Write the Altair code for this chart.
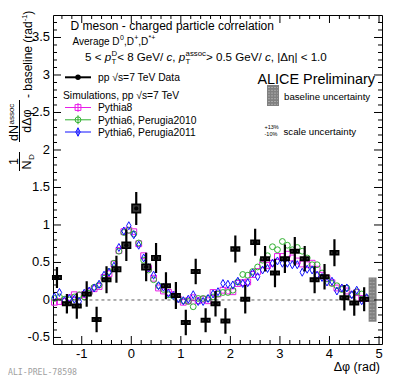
import altair as alt
import pandas as pd
import numpy as np

FONT = "Liberation Sans"

# ---------------- data ----------------
data_x = [-1.5, -1.3, -1.1, -0.9, -0.7, -0.5, -0.3, -0.1, 0.1, 0.3, 0.5, 0.7, 0.9, 1.1, 1.3, 1.5,
          1.7, 1.9, 2.1, 2.3, 2.5, 2.7, 2.9, 3.1, 3.3, 3.5, 3.7, 3.9, 4.1, 4.3, 4.5, 4.7]
data_y = [0.30, -0.05, -0.08, 0.08, -0.26, 0.27, 0.41, 0.73, 1.22, 0.44, 0.56, 0.19, 0.06, -0.30, 0.38, -0.27,
          -0.05, -0.28, 0.68, 0.01, 0.77, 0.55, 0.36, 0.55, 0.65, 0.55, 0.27, 0.31, 0.63, 0.03, -0.04, 0.01]
data_stat = [0.14, 0.13, 0.17, 0.17, 0.17, 0.18, 0.18, 0.21, 0.22, 0.19, 0.20, 0.18, 0.18, 0.17, 0.17, 0.16,
             0.17, 0.17, 0.18, 0.19, 0.18, 0.17, 0.19, 0.19, 0.19, 0.17, 0.18, 0.17, 0.18, 0.17, 0.17, 0.16]
data_syst = [0.022, 0.022, 0.022, 0.022, 0.022, 0.022, 0.03, 0.038, 0.055, 0.036, 0.03, 0.022, 0.022, 0.022, 0.022, 0.022,
             0.022, 0.022, 0.025, 0.022, 0.025, 0.022, 0.022, 0.022, 0.022, 0.022, 0.022, 0.022, 0.025, 0.022, 0.022, 0.022]

model_x = [-1.55, -1.45, -1.35, -1.25, -1.15, -1.05, -0.95, -0.85, -0.75, -0.65, -0.55, -0.45, -0.35, -0.25, -0.15, -0.05,
           0.05, 0.15, 0.25, 0.35, 0.45, 0.55, 0.65, 0.75, 0.85, 0.95, 1.05, 1.15, 1.25, 1.35, 1.45, 1.55,
           1.65, 1.75, 1.85, 1.95, 2.05, 2.15, 2.25, 2.35, 2.45, 2.55, 2.65, 2.75, 2.85, 2.95, 3.05, 3.15,
           3.25, 3.35, 3.45, 3.55, 3.65, 3.75, 3.85, 3.95, 4.05, 4.15, 4.25, 4.35, 4.45, 4.55, 4.65, 4.75]
pythia8 = [-0.03, -0.02, -0.02, 0.03, 0.07, 0.06, 0.07, 0.11, 0.15, 0.18, 0.30, 0.35, 0.48, 0.66, 0.91, 0.93,
           0.91, 0.75, 0.59, 0.42, 0.29, 0.16, 0.12, 0.10, 0.07, 0.01, -0.03, -0.01, 0.03, -0.01, 0.01, -0.01,
           0.10, 0.08, 0.13, 0.12, 0.11, 0.22, 0.23, 0.24, 0.34, 0.38, 0.47, 0.46, 0.49, 0.58, 0.58, 0.61,
           0.56, 0.52, 0.48, 0.47, 0.49, 0.41, 0.33, 0.29, 0.23, 0.16, 0.15, 0.12, 0.07, 0.10, 0.02, 0.02]
perugia2010 = [0.02, 0.04, 0.01, 0.00, 0.04, 0.07, 0.04, 0.09, 0.17, 0.20, 0.29, 0.38, 0.49, 0.65, 0.90, 0.93,
               0.88, 0.76, 0.53, 0.40, 0.27, 0.19, 0.14, 0.07, 0.05, 0.01, -0.01, -0.02, -0.09, 0.02, 0.02, 0.02,
               0.04, 0.08, 0.10, 0.10, 0.13, 0.24, 0.34, 0.33, 0.38, 0.44, 0.53, 0.59, 0.71, 0.67, 0.78, 0.73,
               0.67, 0.70, 0.65, 0.56, 0.47, 0.47, 0.36, 0.28, 0.22, 0.19, 0.14, 0.16, 0.07, 0.11, 0.08, 0.03]
perugia2011 = [0.04, 0.10, -0.01, 0.02, 0.01, -0.02, 0.09, 0.12, 0.16, 0.21, 0.33, 0.37, 0.45, 0.70, 0.92, 0.99,
               0.87, 0.73, 0.56, 0.43, 0.33, 0.19, 0.17, 0.09, 0.06, 0.02, -0.01, 0.01, 0.07, -0.02, -0.02, 0.02,
               0.08, 0.11, 0.22, 0.21, 0.20, 0.25, 0.22, 0.23, 0.36, 0.31, 0.40, 0.42, 0.49, 0.52, 0.49, 0.49,
               0.47, 0.47, 0.37, 0.41, 0.40, 0.33, 0.30, 0.24, 0.25, 0.12, 0.16, 0.16, 0.07, 0.13, -0.01, 0.03]

baseline_unc = [4.79, 4.95, -0.29, 0.30]   # x0, x1, y0, y1

x_ticks = [-1, 0, 1, 2, 3, 4, 5]
x_labels = ["-1", "0", "1", "2", "3", "4", "5"]
y_ticks = [-0.5, 0, 0.5, 1, 1.5, 2, 2.5, 3, 3.5]
y_labels = ["-0.5", "0", "0.5", "1", "1.5", "2", "2.5", "3", "3.5"]

# ---------------- layout ----------------
W, H = 329, 329
OX, OY = 53, 15          # page position of plot origin
XMIN, XMAX = -1.58, 5.06
YMIN, YMAX = -0.587, 3.8
xs = alt.Scale(domain=[XMIN, XMAX], nice=False, zero=False)
ys = alt.Scale(domain=[YMIN, YMAX], nice=False, zero=False)
MAG, GRN, BLU = "#e81ee8", "#30b030", "#1010ff"
DIAMOND = "M0,-1L0.55,0L0,1L-0.55,0Z"

one = pd.DataFrame({"a": [0]})

AW = {' ': 278, '!': 278, '%': 889, '(': 333, ')': 333, '*': 389, '+': 584, ',': 278, '-': 333, '.': 278,
      '/': 278, '<': 584, '=': 584, '>': 584, '|': 260, 'A': 667, 'C': 722, 'D': 722, 'E': 667, 'G': 778,
      'I': 278, 'L': 556, 'N': 722, 'P': 667, 'S': 667, 'T': 611, 'V': 667, 'a': 556, 'b': 556, 'c': 500,
      'd': 556, 'e': 556, 'g': 556, 'h': 556, 'i': 222, 'l': 222, 'm': 833, 'n': 556, 'o': 556, 'p': 556,
      'r': 333, 's': 500, 't': 278, 'u': 556, 'v': 500, 'y': 500, 'Δ': 668, 'η': 556, 'φ': 650, '√': 549}


def tw(s, size):
    return sum(AW.get(ch, 556) for ch in s) * size / 1000.0


def X(v):
    return alt.X(v, scale=xs, axis=None, title=None)


def Y(v):
    return alt.Y(v, scale=ys, axis=None, title=None)


def txt(s, px, py, size, align="left", baseline="alphabetic", angle=0, style="normal",
        color="black", font=FONT):
    return alt.Chart(one).mark_text(
        text=s, fontSize=size, align=align, baseline=baseline, angle=angle,
        fontStyle=style, font=font, color=color
    ).encode(x=alt.value(px - OX), y=alt.value(py - OY))


def seg_line(px0, px1, py0, py1, color="black", width=1.0, dash=None):
    kw = dict(color=color, strokeWidth=width)
    if dash:
        kw["strokeDash"] = dash
    return alt.Chart(one).mark_rule(**kw).encode(
        x=alt.value(px0 - OX), x2=alt.value(px1 - OX),
        y=alt.value(py0 - OY), y2=alt.value(py1 - OY))


layers = []

# ---------------- model curves ----------------
mdf = pd.DataFrame({"x": model_x, "p8": pythia8, "p10": perugia2010, "p11": perugia2011})
layers.append(alt.Chart(mdf).mark_point(shape="square", size=34, filled=False, color=MAG,
                                        strokeWidth=1, opacity=1).encode(x=X("x:Q"), y=Y("p8:Q")))
layers.append(alt.Chart(mdf).mark_point(shape="circle", size=34, filled=False, color=GRN,
                                        strokeWidth=1, opacity=1).encode(x=X("x:Q"), y=Y("p10:Q")))
layers.append(alt.Chart(mdf).mark_point(shape=DIAMOND, size=64, filled=False, color=BLU,
                                        strokeWidth=1, opacity=1).encode(x=X("x:Q"), y=Y("p11:Q")))

# ---------------- zero line ----------------
zdf = pd.DataFrame({"x0": [-1.571], "x1": [4.712], "y": [0.0]})
layers.append(alt.Chart(zdf).mark_rule(color="#333333", strokeWidth=0.8, strokeDash=[3, 3]).encode(
    x=X("x0:Q"), x2="x1:Q", y=Y("y:Q")))

# ---------------- baseline uncertainty box ----------------
bdf = pd.DataFrame({"x0": [baseline_unc[0]], "x1": [baseline_unc[1]], "y0": [baseline_unc[2]], "y1": [baseline_unc[3]]})
layers.append(alt.Chart(bdf).mark_rect(color="#808080", opacity=1).encode(
    x=X("x0:Q"), x2="x1:Q", y=Y("y0:Q"), y2="y1:Q"))
hatch_y = list(np.arange(baseline_unc[2] + 0.03, baseline_unc[3] - 0.01, 0.045))
hdf = pd.DataFrame({"y": hatch_y, "x0": baseline_unc[0] + 0.02, "x1": baseline_unc[1] - 0.02})
layers.append(alt.Chart(hdf).mark_rule(color="#b4b4b4", strokeWidth=0.8, strokeDash=[2, 1]).encode(
    x=X("x0:Q"), x2="x1:Q", y=Y("y:Q")))

# ---------------- data ----------------
ddf = pd.DataFrame({"x": data_x, "y": data_y, "s": data_stat, "sy": data_syst})
ddf["lo"] = ddf.y - ddf.s
ddf["hi"] = ddf.y + ddf.s
ddf["blo"] = ddf.y - ddf.sy
ddf["bhi"] = ddf.y + ddf.sy
ddf["xl"] = ddf.x - 0.085
ddf["xr"] = ddf.x + 0.085
layers.append(alt.Chart(ddf).mark_rule(color="black", strokeWidth=2.2).encode(
    x=X("x:Q"), y=Y("lo:Q"), y2="hi:Q"))
layers.append(alt.Chart(ddf).mark_rect(fill="#3a3a3a", stroke="black", strokeWidth=1.6).encode(
    x=X("xl:Q"), x2="xr:Q", y=Y("blo:Q"), y2="bhi:Q"))
layers.append(alt.Chart(ddf).mark_point(shape="circle", size=18, filled=True, color="black", opacity=1).encode(
    x=X("x:Q"), y=Y("y:Q")))

# ---------------- ticks (inward) ----------------
x_minor = [v for v in np.round(np.arange(-1.4, 5.01, 0.2), 2) if abs(v - round(v)) > 1e-6]
y_minor = [v for v in np.round(np.arange(-0.5, 3.75, 0.1), 2) if abs(v * 2 - round(v * 2)) > 1e-6]
for vals, ln in ((x_ticks, 8), (x_minor, 4)):
    tdf = pd.DataFrame({"v": vals})
    layers.append(alt.Chart(tdf).mark_rule(color="black", strokeWidth=1).encode(
        x=X("v:Q"), y=alt.value(H), y2=alt.value(H - ln)))
    layers.append(alt.Chart(tdf).mark_rule(color="black", strokeWidth=1).encode(
        x=X("v:Q"), y=alt.value(0), y2=alt.value(ln)))
for vals, ln in ((y_ticks, 8), (y_minor, 4)):
    tdf = pd.DataFrame({"v": vals})
    layers.append(alt.Chart(tdf).mark_rule(color="black", strokeWidth=1).encode(
        y=Y("v:Q"), x=alt.value(0), x2=alt.value(ln)))
    layers.append(alt.Chart(tdf).mark_rule(color="black", strokeWidth=1).encode(
        y=Y("v:Q"), x=alt.value(W), x2=alt.value(W - ln)))

# tick labels
xl = pd.DataFrame({"v": x_ticks, "t": x_labels})
layers.append(alt.Chart(xl).mark_text(font=FONT, fontSize=13, baseline="alphabetic", align="center",
                                      color="black").encode(x=X("v:Q"), y=alt.value(H + 14), text="t:N"))
yl = pd.DataFrame({"v": y_ticks, "t": y_labels})
layers.append(alt.Chart(yl).mark_text(font=FONT, fontSize=13, baseline="middle", align="right",
                                      color="black").encode(y=Y("v:Q"), x=alt.value(-3), text="t:N"))

# axis titles
layers.append(txt("Δφ (rad)", 380, 371, 12.5, align="right"))
# y title (rotated, reads bottom to top)
R = 270
SH = 6.5
layers.append(txt("1", 11.5 + SH, 161.5, 12.5, align="center", angle=R))
layers.append(seg_line(13 + SH, 13 + SH, 152, 171, width=1))
layers.append(txt("N", 24.5 + SH, 169.5, 12.5, angle=R))
layers.append(txt("D", 27.5 + SH, 169.5 - tw("N", 12.5) - 0.5, 8, angle=R))
layers.append(txt("dN", 11.5 + SH, 141, 12.5, angle=R))
layers.append(txt("assoc", 7.3 + SH, 141 - tw("dN", 12.5) - 0.5, 8, angle=R))
layers.append(seg_line(13 + SH, 13 + SH, 100, 142, width=1))
layers.append(txt("dΔφ", 24.5 + SH, 121, 12.5, align="center", angle=R))
main = "- baseline (rad"
MF, MS = 12.0, 7.5
y0 = 98.0
layers.append(txt(main, 25 + SH, y0, MF, angle=R))
y1 = y0 - tw(main, MF)
layers.append(txt("-1", 20.5 + SH, y1, MS, angle=R))
y2 = y1 - tw("-1", MS)
layers.append(txt(")", 25 + SH, y2, MF, angle=R))

# ---------------- header texts ----------------
layers.append(txt("D meson  - charged particle correlation", 70.5, 29.5, 12))
# line 2
f2, s2 = 10, 7
px = 72.5
b2 = 44.5
for t, sup in (("Average D", False), ("0", True), (",D", False), ("+", True), (",D", False), ("*+", True)):
    if sup:
        layers.append(txt(t, px + 0.3, b2 - 4.5, s2))
        px += tw(t, s2) + 0.3
    else:
        layers.append(txt(t, px, b2, f2))
        px += tw(t, f2)
# line 3
f3, s3 = 11.6, 7.8
px = 85
b3 = 61


def pT(px, sup):
    layers.append(txt("p", px, b3, f3, style="italic"))
    px += tw("p", f3) + 0.4
    layers.append(txt("T", px, b3 + 2.8, s3))
    layers.append(txt(sup, px, b3 - 4.8, s3))
    return px + max(tw("T", s3), tw(sup, s3))


layers.append(txt("5 < ", px, b3, f3)); px += tw("5 < ", f3)
px = pT(px, "D")
layers.append(txt(" < 8 GeV/", px, b3, f3)); px += tw(" < 8 GeV/", f3)
layers.append(txt("c", px, b3, f3, style="italic")); px += tw("c", f3)
layers.append(txt(", ", px, b3, f3)); px += tw(", ", f3)
px = pT(px, "assoc")
layers.append(txt(" > 0.5 GeV/", px, b3, f3)); px += tw(" > 0.5 GeV/", f3)
layers.append(txt("c", px, b3, f3, style="italic")); px += tw("c", f3)
layers.append(txt(", |Δη| < 1.0", px, b3, f3))

# ---------------- legend ----------------
LF = 10.3
layers.append(seg_line(65, 91, 77.3, 77.3, width=2))
layers.append(alt.Chart(one).mark_point(shape="circle", size=30, filled=True, color="black", opacity=1).encode(
    x=alt.value(78 - OX), y=alt.value(77.3 - OY)))
layers.append(txt("pp √s=7 TeV Data", 98, 77.3 + 3.7, LF))
layers.append(txt("Simulations, pp √s=7 TeV", 63, 95 + 3.7, LF))
for yy, col, shp, sz, lab in ((107.5, MAG, "square", 34, "Pythia8"),
                              (119.8, GRN, "circle", 34, "Pythia6, Perugia2010"),
                              (132.0, BLU, DIAMOND, 64, "Pythia6, Perugia2011")):
    layers.append(seg_line(65, 91, yy, yy, color=col, width=1))
    layers.append(seg_line(78, 78, yy - 4.5, yy + 4.5, color=col, width=1))
    layers.append(alt.Chart(one).mark_point(shape=shp, size=sz, filled=False, color=col, strokeWidth=1,
                                            opacity=1).encode(x=alt.value(78 - OX), y=alt.value(yy - OY)))
    layers.append(txt(lab, 98, yy + 3.7, LF))

layers.append(txt("ALICE Preliminary", 375, 83.5, 14.4, align="right"))
# baseline uncertainty legend box
layers.append(alt.Chart(one).mark_rect(color="#808080", opacity=1).encode(
    x=alt.value(267 - OX), x2=alt.value(279 - OX), y=alt.value(85 - OY), y2=alt.value(106 - OY)))
for k in range(7):
    yy = 87.5 + k * 2.8
    layers.append(seg_line(268, 278, yy, yy, color="#b4b4b4", width=0.8, dash=[2, 1]))
layers.append(txt("baseline uncertainty", 284, 97 + 3.4, 9.7))
layers.append(txt("+13%", 264.5, 128.8, 5.5))
layers.append(txt("-10%", 264.5, 136.3, 5.5))
layers.append(txt("scale uncertainty", 283.5, 131.7 + 3.4, 9.7))

layers.append(txt("ALI-PREL-78598", 8, 375, 8.2, color="#a0a0a0", font="DejaVu Sans Mono"))

chart = alt.layer(*layers).properties(
    width=W, height=H,
    autosize=alt.AutoSizeParams(type="none"),
    padding={"left": 45, "top": 7, "right": 8, "bottom": 32},
).configure_view(stroke="black", strokeWidth=1)

chart.save("out.html", embed_options={"renderer": "svg", "actions": False})
